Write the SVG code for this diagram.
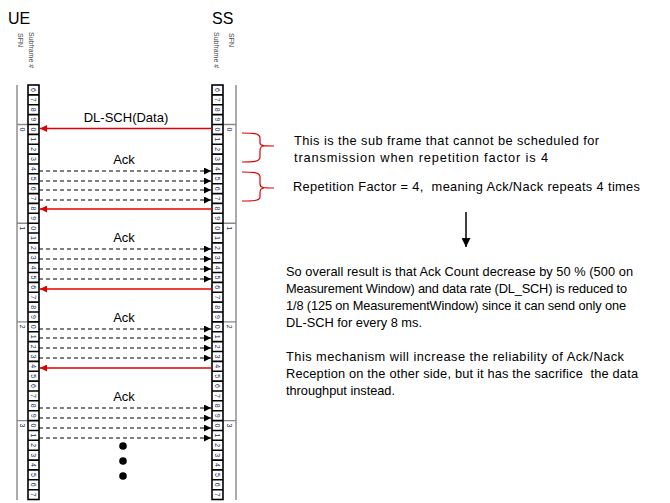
<svg xmlns="http://www.w3.org/2000/svg" width="670" height="503" viewBox="0 0 670 503">
<style>
.t{font-family:"Liberation Sans",Arial,sans-serif;fill:#000}
.lbl{font-size:13px}
.ann{font-size:12.8px}
.hd{font-size:16px}
.d{font-family:"Liberation Sans",Arial,sans-serif;font-size:7px;fill:#1a2a5a;text-anchor:middle;dominant-baseline:central}
.v{font-family:"Liberation Sans",Arial,sans-serif;font-size:7px;fill:#444}
.cell{fill:#fff;stroke:#000;stroke-width:1.6}
.grid{fill:none;stroke:#000;stroke-width:1.6}
.sfn{fill:none;stroke:#888;stroke-width:1.4}
.red{stroke:#e00000;stroke-width:1.3;fill:none}
.dash{stroke:#000;stroke-width:1.2;stroke-dasharray:4,3;fill:none}
.brace{stroke:#e00000;stroke-width:1.2;fill:none}
</style>
<defs>
<marker id="ar" viewBox="0 0 10 10" refX="10" refY="5" markerWidth="7" markerHeight="7" orient="auto" markerUnits="userSpaceOnUse"><path d="M0,0 L10,5 L0,10 z" fill="#e00000"/></marker>
<marker id="ab" viewBox="0 0 10 10" refX="10" refY="5" markerWidth="7" markerHeight="7" orient="auto" markerUnits="userSpaceOnUse"><path d="M0,0 L10,5 L0,10 z" fill="#000"/></marker>
<marker id="ad" viewBox="0 0 10 10" refX="10" refY="5" markerWidth="9" markerHeight="9" orient="auto" markerUnits="userSpaceOnUse"><path d="M0,0 L10,5 L0,10 z" fill="#000"/></marker>
</defs>
<rect width="670" height="503" fill="#fff"/>

<g id="ue">
<text class="t hd" x="8" y="24">UE</text>
<text class="v" transform="translate(18,33) rotate(90)">SFN</text>
<text class="v" transform="translate(29,32) rotate(90)">Subframe #</text>
<path class="sfn" d="M17,85 V500 M17,124.5 H28 M17,223.2 H28 M17,321.9 H28 M17,420.6 H28"/>
<rect class="cell" x="28" y="85" width="11" height="414.5"/>
<path class="grid" d="M28,94.9h11M28,104.7h11M28,114.6h11M28,124.5h11M28,134.4h11M28,144.2h11M28,154.1h11M28,164h11M28,173.8h11M28,183.7h11M28,193.6h11M28,203.4h11M28,213.3h11M28,223.2h11M28,233h11M28,242.9h11M28,252.8h11M28,262.7h11M28,272.5h11M28,282.4h11M28,292.3h11M28,302.1h11M28,312h11M28,321.9h11M28,331.8h11M28,341.6h11M28,351.5h11M28,361.4h11M28,371.2h11M28,381.1h11M28,391h11M28,400.8h11M28,410.7h11M28,420.6h11M28,430.5h11M28,440.3h11M28,450.2h11M28,460.1h11M28,469.9h11M28,479.8h11M28,489.7h11"/>
<text class="d" transform="translate(22.5,129.4) rotate(90)">0</text>
<text class="d" transform="translate(22.5,228.1) rotate(90)">1</text>
<text class="d" transform="translate(22.5,326.8) rotate(90)">2</text>
<text class="d" transform="translate(22.5,425.5) rotate(90)">3</text>
<text class="d" transform="translate(33.5,89.9) rotate(90)">6</text>
<text class="d" transform="translate(33.5,99.8) rotate(90)">7</text>
<text class="d" transform="translate(33.5,109.7) rotate(90)">8</text>
<text class="d" transform="translate(33.5,119.5) rotate(90)">9</text>
<text class="d" transform="translate(33.5,129.4) rotate(90)">0</text>
<text class="d" transform="translate(33.5,139.3) rotate(90)">1</text>
<text class="d" transform="translate(33.5,149.2) rotate(90)">2</text>
<text class="d" transform="translate(33.5,159) rotate(90)">3</text>
<text class="d" transform="translate(33.5,168.9) rotate(90)">4</text>
<text class="d" transform="translate(33.5,178.8) rotate(90)">5</text>
<text class="d" transform="translate(33.5,188.6) rotate(90)">6</text>
<text class="d" transform="translate(33.5,198.5) rotate(90)">7</text>
<text class="d" transform="translate(33.5,208.4) rotate(90)">8</text>
<text class="d" transform="translate(33.5,218.2) rotate(90)">9</text>
<text class="d" transform="translate(33.5,228.1) rotate(90)">0</text>
<text class="d" transform="translate(33.5,238) rotate(90)">1</text>
<text class="d" transform="translate(33.5,247.9) rotate(90)">2</text>
<text class="d" transform="translate(33.5,257.7) rotate(90)">3</text>
<text class="d" transform="translate(33.5,267.6) rotate(90)">4</text>
<text class="d" transform="translate(33.5,277.5) rotate(90)">5</text>
<text class="d" transform="translate(33.5,287.3) rotate(90)">6</text>
<text class="d" transform="translate(33.5,297.2) rotate(90)">7</text>
<text class="d" transform="translate(33.5,307.1) rotate(90)">8</text>
<text class="d" transform="translate(33.5,317) rotate(90)">9</text>
<text class="d" transform="translate(33.5,326.8) rotate(90)">0</text>
<text class="d" transform="translate(33.5,336.7) rotate(90)">1</text>
<text class="d" transform="translate(33.5,346.6) rotate(90)">2</text>
<text class="d" transform="translate(33.5,356.4) rotate(90)">3</text>
<text class="d" transform="translate(33.5,366.3) rotate(90)">4</text>
<text class="d" transform="translate(33.5,376.2) rotate(90)">5</text>
<text class="d" transform="translate(33.5,386) rotate(90)">6</text>
<text class="d" transform="translate(33.5,395.9) rotate(90)">7</text>
<text class="d" transform="translate(33.5,405.8) rotate(90)">8</text>
<text class="d" transform="translate(33.5,415.6) rotate(90)">9</text>
<text class="d" transform="translate(33.5,425.5) rotate(90)">0</text>
<text class="d" transform="translate(33.5,435.4) rotate(90)">1</text>
<text class="d" transform="translate(33.5,445.3) rotate(90)">2</text>
<text class="d" transform="translate(33.5,455.1) rotate(90)">3</text>
<text class="d" transform="translate(33.5,465) rotate(90)">4</text>
<text class="d" transform="translate(33.5,474.9) rotate(90)">5</text>
<text class="d" transform="translate(33.5,484.7) rotate(90)">6</text>
<text class="d" transform="translate(33.5,494.6) rotate(90)">7</text>
</g>

<g id="ss">
<text class="t hd" x="212" y="24">SS</text>
<text class="v" transform="translate(214,32) rotate(90)">Subframe #</text>
<text class="v" transform="translate(229,33) rotate(90)">SFN</text>
<path class="sfn" d="M236,85 V500 M223,124.5 H236 M223,223.2 H236 M223,321.9 H236 M223,420.6 H236"/>
<rect class="cell" x="212" y="85" width="11" height="414.5"/>
<path class="grid" d="M212,94.9h11M212,104.7h11M212,114.6h11M212,124.5h11M212,134.4h11M212,144.2h11M212,154.1h11M212,164h11M212,173.8h11M212,183.7h11M212,193.6h11M212,203.4h11M212,213.3h11M212,223.2h11M212,233h11M212,242.9h11M212,252.8h11M212,262.7h11M212,272.5h11M212,282.4h11M212,292.3h11M212,302.1h11M212,312h11M212,321.9h11M212,331.8h11M212,341.6h11M212,351.5h11M212,361.4h11M212,371.2h11M212,381.1h11M212,391h11M212,400.8h11M212,410.7h11M212,420.6h11M212,430.5h11M212,440.3h11M212,450.2h11M212,460.1h11M212,469.9h11M212,479.8h11M212,489.7h11"/>
<text class="d" transform="translate(229.5,129.4) rotate(90)">0</text>
<text class="d" transform="translate(229.5,228.1) rotate(90)">1</text>
<text class="d" transform="translate(229.5,326.8) rotate(90)">2</text>
<text class="d" transform="translate(229.5,425.5) rotate(90)">3</text>
<text class="d" transform="translate(217.5,89.9) rotate(90)">6</text>
<text class="d" transform="translate(217.5,99.8) rotate(90)">7</text>
<text class="d" transform="translate(217.5,109.7) rotate(90)">8</text>
<text class="d" transform="translate(217.5,119.5) rotate(90)">9</text>
<text class="d" transform="translate(217.5,129.4) rotate(90)">0</text>
<text class="d" transform="translate(217.5,139.3) rotate(90)">1</text>
<text class="d" transform="translate(217.5,149.2) rotate(90)">2</text>
<text class="d" transform="translate(217.5,159) rotate(90)">3</text>
<text class="d" transform="translate(217.5,168.9) rotate(90)">4</text>
<text class="d" transform="translate(217.5,178.8) rotate(90)">5</text>
<text class="d" transform="translate(217.5,188.6) rotate(90)">6</text>
<text class="d" transform="translate(217.5,198.5) rotate(90)">7</text>
<text class="d" transform="translate(217.5,208.4) rotate(90)">8</text>
<text class="d" transform="translate(217.5,218.2) rotate(90)">9</text>
<text class="d" transform="translate(217.5,228.1) rotate(90)">0</text>
<text class="d" transform="translate(217.5,238) rotate(90)">1</text>
<text class="d" transform="translate(217.5,247.9) rotate(90)">2</text>
<text class="d" transform="translate(217.5,257.7) rotate(90)">3</text>
<text class="d" transform="translate(217.5,267.6) rotate(90)">4</text>
<text class="d" transform="translate(217.5,277.5) rotate(90)">5</text>
<text class="d" transform="translate(217.5,287.3) rotate(90)">6</text>
<text class="d" transform="translate(217.5,297.2) rotate(90)">7</text>
<text class="d" transform="translate(217.5,307.1) rotate(90)">8</text>
<text class="d" transform="translate(217.5,317) rotate(90)">9</text>
<text class="d" transform="translate(217.5,326.8) rotate(90)">0</text>
<text class="d" transform="translate(217.5,336.7) rotate(90)">1</text>
<text class="d" transform="translate(217.5,346.6) rotate(90)">2</text>
<text class="d" transform="translate(217.5,356.4) rotate(90)">3</text>
<text class="d" transform="translate(217.5,366.3) rotate(90)">4</text>
<text class="d" transform="translate(217.5,376.2) rotate(90)">5</text>
<text class="d" transform="translate(217.5,386) rotate(90)">6</text>
<text class="d" transform="translate(217.5,395.9) rotate(90)">7</text>
<text class="d" transform="translate(217.5,405.8) rotate(90)">8</text>
<text class="d" transform="translate(217.5,415.6) rotate(90)">9</text>
<text class="d" transform="translate(217.5,425.5) rotate(90)">0</text>
<text class="d" transform="translate(217.5,435.4) rotate(90)">1</text>
<text class="d" transform="translate(217.5,445.3) rotate(90)">2</text>
<text class="d" transform="translate(217.5,455.1) rotate(90)">3</text>
<text class="d" transform="translate(217.5,465) rotate(90)">4</text>
<text class="d" transform="translate(217.5,474.9) rotate(90)">5</text>
<text class="d" transform="translate(217.5,484.7) rotate(90)">6</text>
<text class="d" transform="translate(217.5,494.6) rotate(90)">7</text>
</g>

<g id="connectors">
<line class="red" x1="212" y1="128.5" x2="40" y2="128.5" marker-end="url(#ar)"/>
<line class="red" x1="212" y1="209" x2="40" y2="209" marker-end="url(#ar)"/>
<line class="red" x1="212" y1="289" x2="40" y2="289" marker-end="url(#ar)"/>
<line class="red" x1="212" y1="368" x2="40" y2="368" marker-end="url(#ar)"/>
<line class="dash" x1="39" y1="171" x2="211" y2="171" marker-end="url(#ab)"/>
<line class="dash" x1="39" y1="181" x2="211" y2="181" marker-end="url(#ab)"/>
<line class="dash" x1="39" y1="190" x2="211" y2="190" marker-end="url(#ab)"/>
<line class="dash" x1="39" y1="200" x2="211" y2="200" marker-end="url(#ab)"/>
<line class="dash" x1="39" y1="249" x2="211" y2="249" marker-end="url(#ab)"/>
<line class="dash" x1="39" y1="259" x2="211" y2="259" marker-end="url(#ab)"/>
<line class="dash" x1="39" y1="269" x2="211" y2="269" marker-end="url(#ab)"/>
<line class="dash" x1="39" y1="279" x2="211" y2="279" marker-end="url(#ab)"/>
<line class="dash" x1="39" y1="329" x2="211" y2="329" marker-end="url(#ab)"/>
<line class="dash" x1="39" y1="338" x2="211" y2="338" marker-end="url(#ab)"/>
<line class="dash" x1="39" y1="348" x2="211" y2="348" marker-end="url(#ab)"/>
<line class="dash" x1="39" y1="358" x2="211" y2="358" marker-end="url(#ab)"/>
<line class="dash" x1="39" y1="408" x2="211" y2="408" marker-end="url(#ab)"/>
<line class="dash" x1="39" y1="418" x2="211" y2="418" marker-end="url(#ab)"/>
<line class="dash" x1="39" y1="428" x2="211" y2="428" marker-end="url(#ab)"/>
<line class="dash" x1="39" y1="438" x2="211" y2="438" marker-end="url(#ab)"/>
<line x1="466" y1="212" x2="466" y2="247" stroke="#000" stroke-width="1.5" marker-end="url(#ad)"/>
</g>

<g id="labels">
<text class="t lbl" x="126" y="122" text-anchor="middle">DL-SCH(Data)</text>
<text class="t lbl" x="124" y="164" text-anchor="middle">Ack</text>
<text class="t lbl" x="124" y="242" text-anchor="middle">Ack</text>
<text class="t lbl" x="124" y="322" text-anchor="middle">Ack</text>
<text class="t lbl" x="124" y="401" text-anchor="middle">Ack</text>
<circle cx="123" cy="446" r="3.8" fill="#000"/>
<circle cx="123" cy="461" r="3.8" fill="#000"/>
<circle cx="123" cy="476" r="3.8" fill="#000"/>
</g>

<g id="brace1">
<path class="brace" d="M242,133 C252,133 260,133 260,138 V143 C260,146 264,146 274,146 M264,146 C260,146 260,149 260,151 V157 C260,162 252,162 242,162"/>
<text class="t ann" x="294" y="145" textLength="305" lengthAdjust="spacing">This is the sub frame that cannot be scheduled for</text>
<text class="t ann" x="294" y="162" textLength="254" lengthAdjust="spacing">transmission when repetition factor is 4</text>
</g>

<g id="brace2">
<path class="brace" d="M242,172 C252,172 260,172 260,177 V184 C260,188 264,188 274,188 M264,188 C260,188 260,191 260,194 V197 C260,201 252,201 242,201"/>
<text class="t ann" x="293" y="191" textLength="347" lengthAdjust="spacing" xml:space="preserve">Repetition Factor = 4,  meaning Ack/Nack repeats 4 times</text>
</g>

<g id="summary">
<text class="t ann" x="286" y="276" textLength="347" lengthAdjust="spacing">So overall result is that Ack Count decrease by 50 % (500 on</text>
<text class="t ann" x="286" y="293" textLength="341" lengthAdjust="spacing">Measurement Window) and data rate (DL_SCH) is reduced to</text>
<text class="t ann" x="286" y="310" textLength="340" lengthAdjust="spacing">1/8 (125 on MeasurementWindow) since it can send only one</text>
<text class="t ann" x="286" y="327" textLength="136" lengthAdjust="spacing">DL-SCH for every 8 ms.</text>
<text class="t ann" x="286" y="361" textLength="338" lengthAdjust="spacing">This mechanism will increase the reliability of Ack/Nack</text>
<text class="t ann" x="286" y="378" textLength="352" lengthAdjust="spacing" xml:space="preserve">Reception on the other side, but it has the sacrifice  the data</text>
<text class="t ann" x="286" y="395" textLength="109" lengthAdjust="spacing">throughput instead.</text>
</g>
</svg>
